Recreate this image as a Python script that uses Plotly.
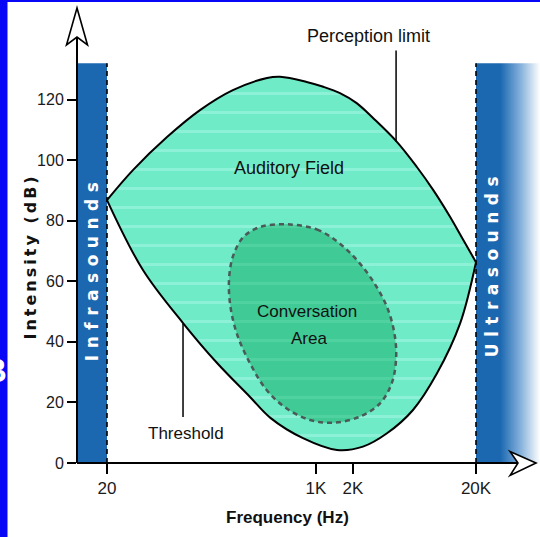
import numpy as np
import plotly.graph_objects as go

# ---------------- data ----------------
# Perception limit (upper boundary of the auditory field)
freq_upper = [20, 32.5, 61.5, 114, 211, 400, 510, 840, 1147, 1567, 2143, 2924, 4530,
              6590, 8990, 12300, 15770, 20000]
db_upper = [86.8, 96.7, 107.6, 116.5, 123.1, 127.1, 127.5, 125.8, 124.2, 122.1, 118.8, 113.8, 106.1,
            97.8, 90.1, 81.3, 73.6, 66.3]

# Threshold of hearing (lower boundary)
freq_lower = [20, 39.2, 83, 157, 291, 426, 784, 1482, 2410, 3780, 6150, 9640, 14830, 20000]
db_lower = [86.8, 63.7, 46.2, 33.0, 21.8, 14.9, 8.2, 4.3, 5.4, 9.8, 17.5, 29.6, 46.0, 66.3]

# Conversation area (closed outline)
conv_freq = [578, 1014, 1567, 2280, 3117, 3873, 4390, 4475, 4127, 3317, 2280, 1384, 894,
             578, 397, 291, 227, 200, 197, 213, 257, 351, 578]
conv_db = [78.8, 77.1, 72.4, 65.8, 58.1, 50.4, 41.6, 34.0, 26.3, 19.7, 15.3, 13.3, 14.2,
           18.0, 24.1, 32.9, 42.8, 52.7, 61.4, 68.6, 74.6, 77.9, 78.8]

x_tick_vals = [20, 1000, 2000, 20000]
x_tick_text = ["20", "1K", "2K", "20K"]
y_tick_vals = [0, 20, 40, 60, 80, 100, 120]

infra_limit = 20        # Hz
ultra_limit = 20000     # Hz
band_top = 132          # dB

# label anchors (frequency Hz, dB)
lbl_field = (604, 97.3)
lbl_conv1 = (853, 50.1)
lbl_conv2 = (877, 41.2)
lbl_percep = (2698, 141.1)
lbl_thresh = (87.7, 9.9)
lead_percep = (4480, 106.0, 136.2)
lead_thresh = (83, 15.2, 46.0)
lbl_infra_db = 64.0
lbl_ultra = (27000, 65.6)

# ---------------- geometry ----------------
W, H = 540, 537
ML, MR, MT, MB = 77, 0, 8, 74
PW, PH = W - ML - MR, H - MT - MB

def pxx(p):
    return (p - ML) / PW

def pxy(p):
    return (H - MB - p) / PH

decade_px = (476 - 107) / 3.0
x_lo = np.log10(infra_limit) - (107 - ML) / decade_px
x_hi = np.log10(ultra_limit) + (W - MR - 476) / decade_px
y_hi = PH / (363.5 / 120.0)

SANS = "Liberation Sans, Arial, sans-serif"
WIDE = "DejaVu Sans, Verdana, sans-serif"
BAND = "#1B68B0"
SMOOTH = 1.0

fig = go.Figure()

# ultrasound band with fade to white
fig.add_trace(go.Scatter(
    x=[ultra_limit, 10 ** x_hi, 10 ** x_hi, ultra_limit, ultra_limit],
    y=[0, 0, band_top, band_top, 0],
    mode="none", fill="toself",
    fillgradient=dict(type="horizontal",
                      colorscale=[[0, BAND], [0.38, BAND], [0.7, "#86B2DC"], [1, "#FFFFFF"]]),
    hoverinfo="skip", showlegend=False))

# threshold curve
fig.add_trace(go.Scatter(
    x=freq_lower, y=db_lower, mode="lines",
    line=dict(color="black", width=2, shape="spline", smoothing=SMOOTH, simplify=False),
    hoverinfo="skip", showlegend=False))

# perception limit curve, filled down to threshold
fig.add_trace(go.Scatter(
    x=freq_upper, y=db_upper, mode="lines",
    line=dict(color="black", width=2, shape="spline", smoothing=SMOOTH, simplify=False),
    fill="tonexty", fillcolor="#70EBC7",
    fillpattern=dict(shape="-", bgcolor="#70EBC7", fgcolor="#A8F8E6", size=19, solidity=0.16),
    hoverinfo="skip", showlegend=False))

# conversation area
fig.add_trace(go.Scatter(
    x=conv_freq, y=conv_db, mode="lines", fill="toself", fillcolor="#40CA96",
    fillpattern=dict(shape="-", bgcolor="#40CA96", fgcolor="#5DD8AA", size=19, solidity=0.16),
    line=dict(color="#4B5A56", width=2.5, dash="5px,4px", shape="spline", smoothing=SMOOTH,
              simplify=False),
    hoverinfo="skip", showlegend=False))

shapes = []
# infrasound band
shapes.append(dict(type="rect", xref="x", yref="y", x0=10 ** x_lo, x1=infra_limit, y0=0, y1=band_top,
                   fillcolor=BAND, line=dict(width=0), layer="below"))
# dashed limits
for xv in (infra_limit, ultra_limit):
    shapes.append(dict(type="line", xref="x", yref="y", x0=xv, x1=xv, y0=0, y1=band_top,
                       line=dict(color="black", width=1.6, dash="5px,4px")))
# leader lines
shapes.append(dict(type="line", xref="x", yref="y", x0=lead_percep[0], x1=lead_percep[0],
                   y0=lead_percep[1], y1=lead_percep[2], line=dict(color="black", width=1.5)))
shapes.append(dict(type="line", xref="x", yref="y", x0=lead_thresh[0], x1=lead_thresh[0],
                   y0=lead_thresh[1], y1=lead_thresh[2], line=dict(color="black", width=1.5)))
# axis lines
shapes.append(dict(type="line", xref="paper", yref="paper", x0=0, x1=pxx(517), y0=0, y1=0,
                   line=dict(color="black", width=2)))
shapes.append(dict(type="line", xref="paper", yref="paper", x0=0, x1=0, y0=0, y1=pxy(38),
                   line=dict(color="black", width=2)))
# arrow heads (hollow)
def path(pts):
    s = "M " + " L ".join(f"{pxx(a):.5f},{pxy(b):.5f}" for a, b in pts) + " Z"
    return s
shapes.append(dict(type="path", xref="paper", yref="paper",
                   path=path([(77, 8), (66.5, 45), (77, 37), (87.5, 45)]),
                   fillcolor="white", line=dict(color="black", width=1.6)))
shapes.append(dict(type="path", xref="paper", yref="paper",
                   path=path([(536, 463), (510, 451.5), (518, 463), (510, 475.5)]),
                   fillcolor="white", line=dict(color="black", width=1.6)))
# blue frame on left and top
shapes.append(dict(type="rect", xref="paper", yref="paper", x0=pxx(-2), x1=pxx(7.5), y0=pxy(H + 2), y1=pxy(-2),
                   fillcolor="#0707F5", line=dict(width=0)))
shapes.append(dict(type="rect", xref="paper", yref="paper", x0=pxx(-2), x1=pxx(W + 2), y0=pxy(2), y1=pxy(-2),
                   fillcolor="#0707F5", line=dict(width=0)))

def ann(text, f, db, size=18, color="#111111", family=SANS, angle=0, **kw):
    return dict(text=text, x=np.log10(f), y=db, xref="x", yref="y", showarrow=False,
                font=dict(family=family, size=size, color=color), textangle=angle,
                xanchor="center", yanchor="middle", **kw)

annotations = [
    ann("Auditory Field", *lbl_field),
    ann("Conversation", *lbl_conv1, size=17),
    ann("Area", *lbl_conv2, size=17),
    ann("Perception limit", *lbl_percep),
    ann("Threshold", *lbl_thresh, size=17),
    ann('<span style="letter-spacing:6.5px"><b>Infrasounds</b></span>',
        np.sqrt(10 ** x_lo * infra_limit), lbl_infra_db, size=17, color="white", family=WIDE, angle=-90),
    ann('<span style="letter-spacing:6.5px"><b>Ultrasounds</b></span>',
        *lbl_ultra, size=17, color="white", family=WIDE, angle=-90),
    dict(text='<span style="letter-spacing:3px"><b>Intensity (dB)</b></span>', xref="paper", yref="paper",
         x=pxx(30), y=pxy(256.5), showarrow=False, textangle=-90,
         font=dict(family=WIDE, size=16, color="#111111"), xanchor="center", yanchor="middle"),
    dict(text="<b>Frequency (Hz)</b>", xref="paper", yref="paper", x=pxx(287), y=pxy(517),
         showarrow=False, font=dict(family=SANS, size=17, color="#111111"),
         xanchor="center", yanchor="middle"),
    dict(text="<b>B</b>", xref="paper", yref="paper", x=pxx(8.5), y=pxy(370), showarrow=False,
         font=dict(family=SANS, size=33, color="white"),
         xanchor="right", yanchor="middle"),
]

fig.update_layout(
    width=W, height=H,
    margin=dict(l=ML, r=MR, t=MT, b=MB, pad=0),
    paper_bgcolor="white", plot_bgcolor="white",
    showlegend=False,
    shapes=shapes, annotations=annotations,
    xaxis=dict(type="log", range=[x_lo, x_hi], tickvals=x_tick_vals, ticktext=x_tick_text,
               ticks="outside", ticklen=10, tickwidth=2, tickcolor="black",
               showgrid=False, zeroline=False, showline=False, fixedrange=True,
               tickfont=dict(family=SANS, size=17, color="#1a1a1a")),
    yaxis=dict(range=[0, y_hi], tickvals=y_tick_vals, ticks="outside", ticklen=9, tickwidth=1.6,
               tickcolor="black", showgrid=False, zeroline=False, showline=False, fixedrange=True,
               tickfont=dict(family=SANS, size=16, color="#1a1a1a")),
)

fig.write_html("out.html", config={"displayModeBar": False},
               post_script="document.body.style.margin='0';document.body.style.overflow='hidden';")
